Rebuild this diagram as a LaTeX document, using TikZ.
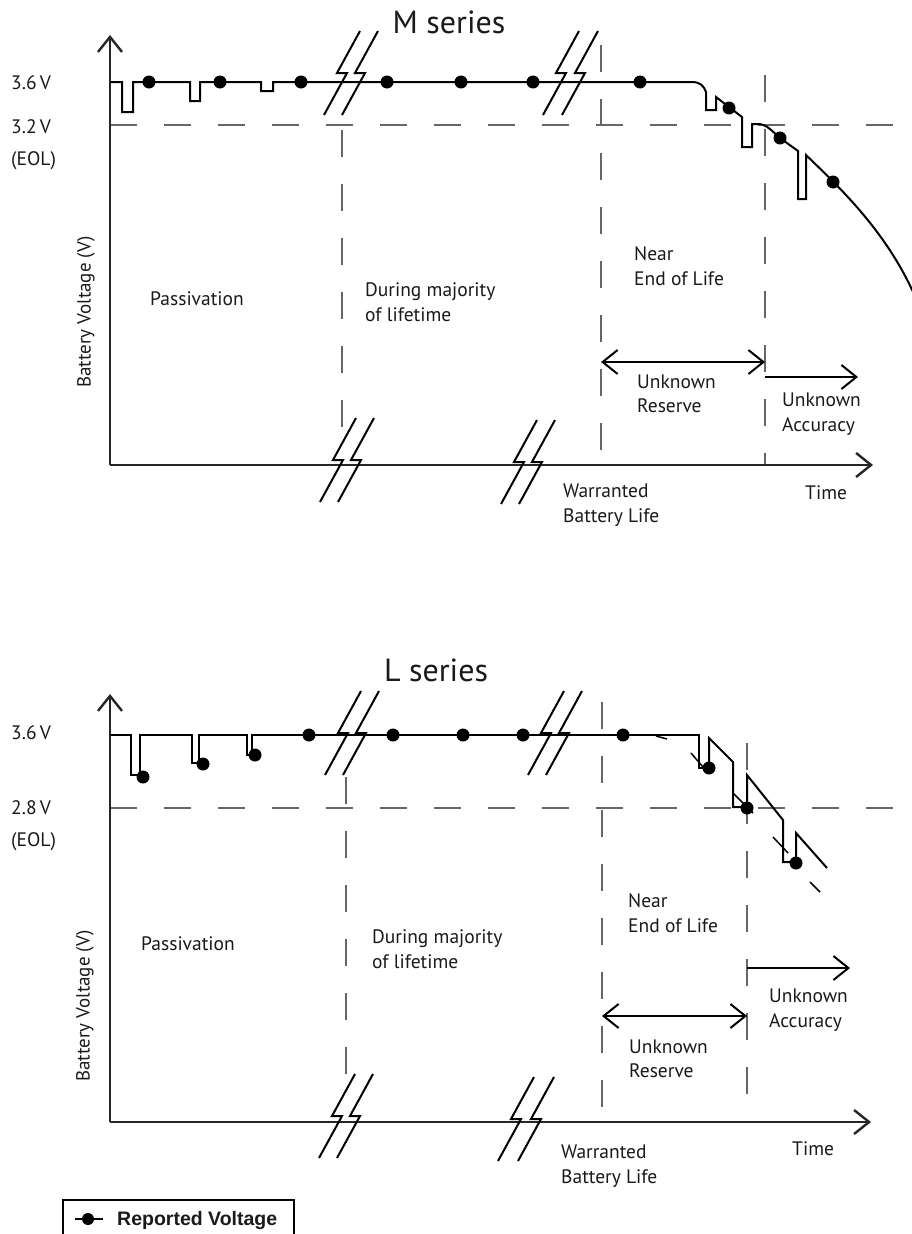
\documentclass[tikz,border=0pt]{standalone}
\usepackage{fontspec}
\setmainfont{PT Sans}
\newfontfamily\legfont{Liberation Sans}
\usetikzlibrary{arrows.meta}
\definecolor{txt}{HTML}{1A1A1A}
\definecolor{dsh}{HTML}{666666}
\begin{document}
\begin{tikzpicture}[x=1pt,y=-1pt,
  trace/.style={line width=2pt, black, line join=miter},
  axis/.style={line width=2.4pt, black!85},
  tip/.style={-{Straight Barb[length=15pt,width=24pt]}},
  dtip/.style={{Straight Barb[length=15pt,width=24pt]}-{Straight Barb[length=15pt,width=24pt]}},
  dashln/.style={line width=1.9pt, dsh, dash pattern=on 27pt off 27pt},
  dot/.style={circle, fill=black, inner sep=0pt, minimum size=13pt},
  lbl/.style={font=\fontsize{19.5}{24.5}\selectfont, anchor=west, inner sep=0pt, align=left, text=txt},
  vlbl/.style={font=\fontsize{19}{24.5}\selectfont, inner sep=0pt, text=txt},
  ttl/.style={font=\fontsize{32}{36}\selectfont, inner sep=0pt, text=txt}]
\clip (0,0) rectangle (912,1234);
\fill[white] (0,0) rectangle (912,1234);

% ================= M series =================
\node[ttl] (mtitle) at (449,22) {M series};
% dashed guide lines
\coordinate (mh0) at (110,125); \coordinate (mh1) at (912,125);
\draw[dashln] (mh0) -- (mh1);
\coordinate (mv1a) at (342,130); \coordinate (mv1b) at (342,432);
\coordinate (mv2a) at (601,45);  \coordinate (mv2b) at (601,465);
\coordinate (mv3a) at (765,75);  \coordinate (mv3b) at (765,465);
\draw[dashln] (mv1a) -- (mv1b);
\draw[dashln] (mv2a) -- (mv2b);
\draw[dashln] (mv3a) -- (mv3b);
% axes
\coordinate (mo) at (110,465); \coordinate (my) at (110,35); \coordinate (mx) at (873,465);
\draw[axis,tip] (mo) -- (my);
\draw[axis,tip] (mo) -- (mx);
% trace
\draw[trace] (110,82) -- (122,82) -- (122,112) -- (133,112) -- (133,82)
  -- (190,82) -- (190,101) -- (200,101) -- (200,82)
  -- (261,82) -- (261,91) -- (273,91) -- (273,82) -- (692,82)
  .. controls (700,82) and (704,86) .. (706,92)
  -- (706,110) -- (716,110) -- (716,97) -- (742,117)
  -- (742,147) -- (752,147) -- (752,124) -- (758,124)
  .. controls (766,124) and (771,130) .. (780,138) -- (798,151)
  -- (798,199) -- (806,199) -- (806,155)
  .. controls (840,188) and (885,230) .. (914,294);
% breaks
\foreach \cx/\cy in {342/73, 360/73, 561/73, 580/73, 338/460, 356/460, 519/462, 537/462}
  \draw[trace, shift={(\cx,\cy)}] (18,-42) -- (-5,0) -- (5,0) -- (-18,42);
% dots
\foreach \i/\px/\py in {1/149/82, 2/220/82, 3/301/82, 4/387/82, 5/461/82, 6/533/82, 7/640/82, 8/729/108, 9/780/138, 10/833/182}
  \node[dot] (md\i) at (\px,\py) {};
% arrows
\coordinate (mra) at (601,362); \coordinate (mrb) at (765,362);
\draw[trace,dtip] (mra) -- (mrb);
\coordinate (maa) at (765,377); \coordinate (mab) at (858,377);
\draw[trace,tip] (maa) -- (mab);
% labels
\node[lbl] (m36) at (11,83) {3.6\,V};
\node[lbl] (m32) at (11,127) {3.2\,V};
\node[lbl] (meol) at (11,161) {(EOL)};
\node[vlbl, rotate=90] (mya) at (86,312) {Battery Voltage (V)};
\node[lbl] (mpas) at (150,299) {Passivation};
\node[lbl] (mdur) at (365,302) {During majority\\of lifetime};
\node[lbl] (mnear) at (634,266) {Near\\End of Life};
\node[lbl] (mres) at (637,394) {Unknown\\Reserve};
\node[lbl] (macc) at (782,414) {Unknown\\Accuracy};
\node[lbl] (mwar) at (563,505) {Warranted\\Battery Life};
\node[lbl] (mtime) at (805,493) {Time};

% ================= L series =================
\node[ttl] (ltitle) at (436,670) {L series};
\coordinate (lh0) at (110,808); \coordinate (lh1) at (912,808);
\draw[dashln] (lh0) -- (lh1);
\coordinate (lv1a) at (346,777); \coordinate (lv1b) at (346,1075);
\coordinate (lv2a) at (602,702); \coordinate (lv2b) at (602,1122);
\coordinate (lv3a) at (747,743); \coordinate (lv3b) at (747,1100);
\draw[dashln] (lv1a) -- (lv1b);
\draw[dashln] (lv2a) -- (lv2b);
\draw[dashln] (lv3a) -- (lv3b);
\coordinate (lo) at (110,1122); \coordinate (ly) at (110,694); \coordinate (lx) at (871,1122);
\draw[axis,tip] (lo) -- (ly);
\draw[axis,tip] (lo) -- (lx);
\draw[trace] (110,735) -- (131,735) -- (131,775) -- (140,775) -- (140,735)
  -- (192,735) -- (192,763) -- (199,763) -- (199,735)
  -- (247,735) -- (247,755) -- (252,755) -- (252,735) -- (699,735)
  -- (699,768) -- (707,768);
\draw[trace] (709,768) -- (709,738) -- (733,762) -- (733,807) -- (743,807);
\draw[trace] (747,808) -- (747,775) -- (783,820) -- (783,862) -- (792,862);
\draw[trace] (796,862) -- (796,833) -- (827,868);
% small slanted ticks
\draw[trace, line width=1.5pt] (656,736) -- (667,739);
\draw[trace, line width=1.5pt] (691,753) -- (703,767);
\draw[trace, line width=1.5pt] (733,793) -- (753,813);
\draw[trace, line width=1.5pt] (773,837) -- (788,853);
\draw[trace, line width=1.5pt] (810,882) -- (820,892);
\foreach \cx/\cy in {343/733, 361/733, 546/733, 564/733, 337/1116, 355/1116, 516/1119, 536/1119}
  \draw[trace, shift={(\cx,\cy)}] (18,-42) -- (-5,0) -- (5,0) -- (-18,42);
\foreach \i/\px/\py in {1/143/777, 2/203/764, 3/255/755, 4/309/735, 5/393/735, 6/463/735, 7/523/735, 8/623/735, 9/709/768, 10/747/808, 11/796/863}
  \node[dot] (ld\i) at (\px,\py) {};
\coordinate (lra) at (602,1016); \coordinate (lrb) at (747,1016);
\draw[trace,dtip] (lra) -- (lrb);
\coordinate (laa) at (747,968); \coordinate (lab) at (850,968);
\draw[trace,tip] (laa) -- (lab);
\node[lbl] (l36) at (11,733) {3.6\,V};
\node[lbl] (l28) at (11,808) {2.8\,V};
\node[lbl] (leol) at (11,842) {(EOL)};
\node[vlbl, rotate=90] (lya) at (85,1006) {Battery Voltage (V)};
\node[lbl] (lpas) at (141,944) {Passivation};
\node[lbl] (ldur) at (372,949) {During majority\\of lifetime};
\node[lbl] (lnear) at (628,913) {Near\\End of Life};
\node[lbl] (lacc) at (769,1010) {Unknown\\Accuracy};
\node[lbl] (lres) at (629,1059) {Unknown\\Reserve};
\node[lbl] (lwar) at (561,1166) {Warranted\\Battery Life};
\node[lbl] (ltime) at (792,1149) {Time};

% ================= legend =================
\node[draw=black, line width=1.6pt, minimum width=231pt, minimum height=60pt, anchor=north west, inner sep=0pt] (legbox) at (62,1199) {};
\coordinate (lg0) at (75,1219); \coordinate (lg1) at (103,1219);
\draw[line width=2.4pt] (lg0) -- (lg1);
\node[circle, fill=black, inner sep=0pt, minimum size=12pt] (lgdot) at (88,1219) {};
\node[anchor=west, inner sep=0pt, font=\legfont\bfseries\fontsize{19.5}{22}\selectfont, text=txt] (legtxt) at (117,1220) {Reported Voltage};
\end{tikzpicture}
\end{document}
